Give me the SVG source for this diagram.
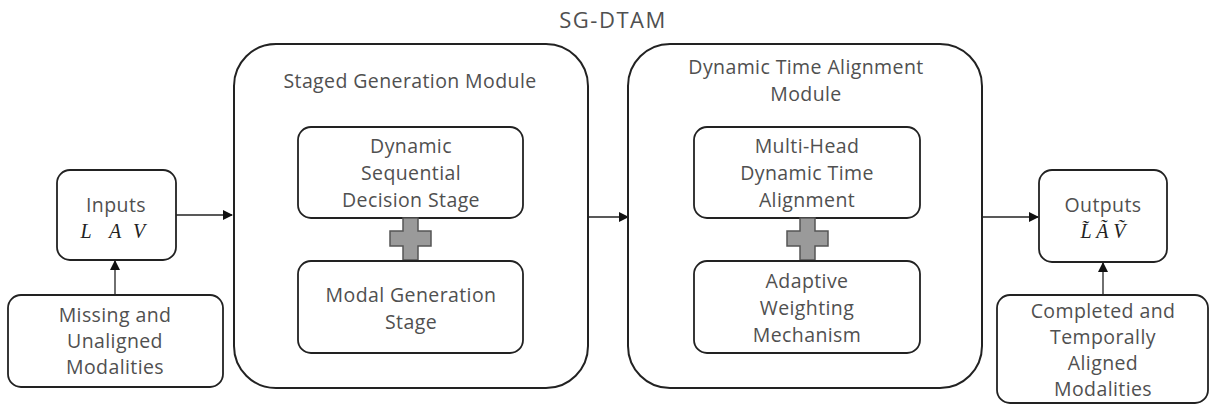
<svg xmlns="http://www.w3.org/2000/svg" width="1209" height="406" viewBox="0 0 1209 406">
<defs>
<marker id="arr" viewBox="0 0 10 10" refX="9" refY="5" markerWidth="10" markerHeight="10" markerUnits="userSpaceOnUse" orient="auto">
<path d="M0,0 L10,5 L0,10 z" fill="#111"/>
</marker>
<style>
.box{fill:#fff;stroke:#222;stroke-width:1.8}
.mod{fill:#fff;stroke:#222;stroke-width:2}
.t{font-family:"Open Sans","Noto Sans","Liberation Sans",sans-serif;font-size:19.5px;letter-spacing:0.4px;fill:#505050;text-anchor:middle}
.m{font-family:"Liberation Serif",serif;font-style:italic;font-size:20px;fill:#222;text-anchor:middle}
.plus{fill:#9a9a9a;stroke:#555;stroke-width:1.5}
.c{stroke:#222;stroke-width:1.3;fill:none}
</style>
</defs>
<rect width="1209" height="406" fill="#fff"/>
<text class="t" x="613" y="28" style="font-size:22px;letter-spacing:1.5px">SG-DTAM</text>

<g id="connectors">
<line class="c" x1="176" y1="215" x2="232" y2="215" marker-end="url(#arr)"/>
<line class="c" x1="115" y1="295" x2="115" y2="261" marker-end="url(#arr)"/>
<line class="c" x1="588" y1="217" x2="628" y2="217" marker-end="url(#arr)"/>
<line class="c" x1="982" y1="217" x2="1038" y2="217" marker-end="url(#arr)"/>
<line class="c" x1="1103" y1="295" x2="1103" y2="263" marker-end="url(#arr)"/>
</g>

<g id="inputs">
<rect class="box" x="57" y="170" width="119" height="90" rx="13"/>
<text class="t" x="116" y="212">Inputs</text>
<text class="m" x="86" y="238">L</text><text class="m" x="115" y="238">A</text><text class="m" x="139" y="238">V</text>
</g>

<g id="missing">
<rect class="box" x="8" y="295" width="215" height="92" rx="13"/>
<text class="t" x="115" y="322">Missing and</text>
<text class="t" x="115" y="348">Unaligned</text>
<text class="t" x="115" y="374">Modalities</text>
</g>

<g id="sgm">
<rect class="mod" x="234" y="44" width="354" height="344" rx="42"/>
<text class="t" x="410" y="88">Staged Generation Module</text>
</g>
<g id="dsds">
<rect class="box" x="298" y="127" width="225" height="91" rx="13"/>
<text class="t" x="411" y="153">Dynamic</text>
<text class="t" x="411" y="180">Sequential</text>
<text class="t" x="411" y="207">Decision Stage</text>
</g>
<g id="plus1">
<path class="plus" d="M403,218 h15 v13 h13 v15 h-13 v14 h-15 v-14 h-13 v-15 h13 z"/>
</g>
<g id="mgs">
<rect class="box" x="298" y="261" width="225" height="92" rx="13"/>
<text class="t" x="411" y="302">Modal Generation</text>
<text class="t" x="411" y="329">Stage</text>
</g>

<g id="dtam">
<rect class="mod" x="628" y="44" width="354" height="344" rx="42"/>
<text class="t" x="806" y="74">Dynamic Time Alignment</text>
<text class="t" x="806" y="101">Module</text>
</g>
<g id="mhdta">
<rect class="box" x="694" y="127" width="226" height="91" rx="13"/>
<text class="t" x="807" y="153">Multi-Head</text>
<text class="t" x="807" y="180">Dynamic Time</text>
<text class="t" x="807" y="207">Alignment</text>
</g>
<g id="plus2">
<path class="plus" d="M800,218 h15 v13 h13 v15 h-13 v14 h-15 v-14 h-13 v-15 h13 z"/>
</g>
<g id="awm">
<rect class="box" x="694" y="261" width="226" height="92" rx="13"/>
<text class="t" x="807" y="288">Adaptive</text>
<text class="t" x="807" y="315">Weighting</text>
<text class="t" x="807" y="342">Mechanism</text>
</g>

<g id="outputs">
<rect class="box" x="1039" y="170" width="128" height="92" rx="13"/>
<text class="t" x="1103" y="212">Outputs</text>
<text class="m" x="1103" y="238">L̃ Ã Ṽ</text>
</g>

<g id="completed">
<rect class="box" x="997" y="295" width="211" height="108" rx="13"/>
<text class="t" x="1103" y="318">Completed and</text>
<text class="t" x="1103" y="344">Temporally</text>
<text class="t" x="1103" y="370">Aligned</text>
<text class="t" x="1103" y="396">Modalities</text>
</g>
</svg>
